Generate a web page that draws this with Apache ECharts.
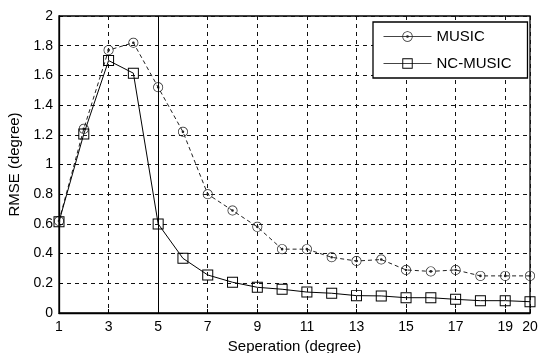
<!DOCTYPE html>
<html>
<head>
<meta charset="utf-8">
<script src="https://cdn.jsdelivr.net/npm/echarts@6/dist/echarts.min.js"></script>
<style>
html,body{margin:0;padding:0;background:#fff;}
#chart{width:538px;height:353px;}
</style>
</head>
<body>
<div id="chart"></div>
<script>
const separations = ['1','2','3','4','5','6','7','8','9','10','11','12','13','14','15','16','17','18','19','20'];
const shownXLabels = ['1','3','5','7','9','11','13','15','17','19','20'];
const musicRMSE = [0.62,1.24,1.77,1.82,1.52,1.22,0.80,0.69,0.58,0.43,0.43,0.375,0.35,0.36,0.29,0.28,0.29,0.25,0.25,0.25];
const ncMusicRMSE = [0.615,1.205,1.70,1.615,0.60,0.368,0.256,0.207,0.173,0.16,0.141,0.133,0.117,0.115,0.103,0.103,0.092,0.083,0.083,0.076];
const markerLineAt = '5';

const FONT = 'Liberation Sans, Arial, Helvetica, sans-serif';
const ringDot = 'path://M0,-10 A10,10 0 1,1 0,10 A10,10 0 1,1 0,-10 Z M0,-8.6 A8.6,8.6 0 1,0 0,8.6 A8.6,8.6 0 1,0 0,-8.6 Z M0,-2.6 A2.6,2.6 0 1,1 0,2.6 A2.6,2.6 0 1,1 0,-2.6 Z';
const hollowSquare = 'path://M0,0 L20,0 L20,20 L0,20 Z M1.8,1.8 L1.8,18.2 L18.2,18.2 L18.2,1.8 Z';

const chart = echarts.init(document.getElementById('chart'), null, {renderer:'canvas'});
chart.setOption({
  animation: false,
  backgroundColor: '#fff',
  grid: { left: 59, right: 8, top: 16, bottom: 40, outerBoundsMode: 'none', containLabel: false, show: true, borderColor: '#000', borderWidth: 1.3, backgroundColor: 'transparent' },
  legend: {
    orient: 'vertical', left: 373, top: 22,
    padding: [7, 16, 7, 10],
    itemWidth: 48, itemHeight: 13, itemGap: 12,
    backgroundColor: '#fff', borderColor: '#000', borderWidth: 1.3,
    textStyle: { fontFamily: FONT, fontSize: 15, color: '#000' },
    lineStyle: { type: 'solid', width: 1, color: '#444' },
    data: ['MUSIC', 'NC-MUSIC']
  },
  xAxis: {
    type: 'category', data: separations, boundaryGap: false,
    name: 'Seperation (degree)', nameLocation: 'middle', nameGap: 26,
    nameTextStyle: { fontFamily: FONT, fontSize: 15, color: '#000' },
    axisLine: { show: true, lineStyle: { color: '#000', width: 1.3 } },
    axisTick: { show: true, inside: true, length: 4, lineStyle: { color: '#000' }, interval: (i, v) => shownXLabels.includes(v) },
    axisLabel: { fontFamily: FONT, fontSize: 14, color: '#000', margin: 7, interval: (i, v) => shownXLabels.includes(v) },
    splitLine: { show: true, interval: (i, v) => shownXLabels.includes(v) && v !== markerLineAt, lineStyle: { color: '#111', width: 1, type: [4, 4] } }
  },
  yAxis: {
    type: 'value', min: 0, max: 2, interval: 0.2,
    name: 'RMSE (degree)', nameLocation: 'middle', nameGap: 34,
    nameTextStyle: { fontFamily: FONT, fontSize: 15, color: '#000' },
    axisLine: { show: true, lineStyle: { color: '#000', width: 1.3 } },
    axisTick: { show: true, inside: true, length: 4, lineStyle: { color: '#000' } },
    axisLabel: { fontFamily: FONT, fontSize: 14, color: '#000', margin: 6 },
    splitLine: { show: true, lineStyle: { color: '#111', width: 1, type: [4, 4] } }
  },
  series: [
    {
      name: 'MUSIC', type: 'line', data: musicRMSE,
      symbol: ringDot, symbolSize: 10, showAllSymbol: true,
      lineStyle: { color: '#222', width: 1, type: [4, 3] },
      itemStyle: { color: '#222', borderWidth: 0 },
      z: 3
    },
    {
      name: 'NC-MUSIC', type: 'line', data: ncMusicRMSE,
      symbol: hollowSquare, symbolSize: 11, showAllSymbol: true,
      lineStyle: { color: '#000', width: 1, type: 'solid' },
      itemStyle: { color: '#000', borderWidth: 0 },
      markLine: {
        silent: true, symbol: 'none', label: { show: false },
        lineStyle: { color: '#000', width: 1, type: 'solid' },
        data: [{ xAxis: markerLineAt }]
      },
      z: 4
    }
  ]
});
</script>
</body>
</html>
